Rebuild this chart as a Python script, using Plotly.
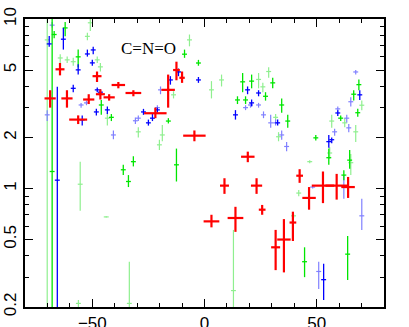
import plotly.graph_objects as go

# red: large crosses
red_x = [-68.8, -64.4, -61.3, -56.3, -51.6, -47.9, -46.4, -42.5, -38.4, -31.7, -21.9, -16.2, -12.5, -10.0,
         -4.5, 3.1, 8.9, 13.8, 19.3, 23.2, 25.7, 31.7, 35.4, 39.4, 42.4, 46.6, 52.8, 58.9, 64.0]
red_y = [3.4, 5.05, 3.4, 2.55, 3.35, 4.6, 3.6, 3.45, 4.08, 3.66, 2.78, 3.82, 5.0, 4.5,
         2.05, 0.64, 1.04, 0.67, 1.54, 1.04, 0.75, 0.45, 0.5, 0.63, 1.19, 0.88, 1.04, 1.04, 1.02]
red_hi = [3.8, 5.5, 3.8, 2.7, 3.6, 4.9, 3.85, 3.6, 4.25, 3.8, 3.0, 4.7, 5.6, 4.9,
          2.2, 0.7, 1.15, 0.78, 1.65, 1.15, 0.8, 0.57, 0.66, 0.73, 1.3, 1.02, 1.26, 1.22, 1.17]
red_lo = [3.0, 4.65, 3.0, 2.4, 3.15, 4.25, 3.35, 3.3, 3.9, 3.5, 2.6, 3.0, 4.35, 4.2,
          1.9, 0.59, 0.93, 0.555, 1.43, 0.93, 0.7, 0.33, 0.32, 0.49, 1.08, 0.75, 0.82, 0.86, 0.88]
red_xerr = [2.5, 2, 2.5, 4, 2.5, 2, 2, 2.5, 3, 3.5, 5, 3, 1.5, 1.2,
            5, 3.5, 2, 3.5, 3, 2.5, 1.5, 2, 3, 1.5, 1.5, 3, 5, 5, 3]

# bright green
grn_x = [-67.9, -62.1, -67.0, -56.3, -46.0, -41.5, -36.2, -33.9, -31.7, -16.1, -12.5, -8.9, -2.7,
         17.0, 21.0, 14.7, 18.3, 27.2, 30.4, 34.4, 37.1, 49.6, 60.7, 66.5, 68.8, 68.3,
         55.4, 64.7, 62.1, 44.6, 63.8]
grn_y = [1.26, 8.86, 8.1, 5.98, 3.11, 2.63, 1.29, 1.1, 1.44, 2.5, 1.38, 6.2, 5.5,
         4.26, 4.3, 3.33, 3.33, 3.5, 4.2, 3.11, 2.5, 1.99, 2.6, 3.6, 4.1, 2.8,
         1.52, 1.47, 1.2, 0.37, 0.41]
grn_hi = [12, 9.6, 8.5, 6.6, 3.33, 2.75, 1.38, 1.2, 1.55, 2.6, 1.72, 6.6, 5.74,
          4.8, 4.7, 3.5, 3.5, 3.7, 4.5, 3.4, 2.72, 2.07, 2.7, 3.8, 4.4, 2.95,
          1.72, 1.69, 1.28, 0.45, 0.525]
grn_lo = [0.15, 7.9, 7.7, 5.2, 2.72, 2.5, 1.2, 1.02, 1.35, 2.42, 1.1, 5.9, 5.3,
          3.7, 3.9, 3.15, 3.15, 3.3, 3.9, 2.8, 2.28, 1.92, 2.5, 3.3, 3.8, 2.65,
          1.38, 1.31, 1.12, 0.30, 0.289]

# light green
lgr_x = [-70.1, -64.3, -61.2, -58.5, -52.2, -47.8, -46.4, -50.9, -55.4, -43.3, -29.5, -18.8, -20.1,
         -6.7, -11.6, -13.8, 3.1, 7.6, 24.1, 28.6, 26.0, 31.7, 33.0, 56.7, 62.5, 67.4, 55.8,
         46.9, 65.2, 42.0, 39.7, 12.9, -33.5, -56.2, -43.8, 70.1]
lgr_y = [7.53, 5.89, 5.74, 5.6, 7.9, 5.74, 5.22, 9.5, 1.06, 2.6, 2.16, 2.07, 1.81,
         7.53, 4.9, 3.57, 3.82, 4.37, 4.4, 4.9, 3.98, 2.63, 2.02, 2.5, 2.44, 2.16, 1.62,
         1.44, 1.42, 0.94, 0.69, 0.25, 0.21, 0.21, 0.68, 3.1]
lgr_hi = [12, 6.2, 6.0, 5.9, 8.3, 6.0, 5.5, 12, 1.44, 2.8, 2.3, 2.37, 1.94,
          8.1, 5.1, 3.75, 4.3, 4.7, 4.8, 5.2, 4.2, 2.75, 2.15, 2.72, 2.6, 2.37, 1.75,
          1.47, 1.6, 0.98, 0.71, 0.57, 0.37, 0.22, 0.685, 3.3]
lgr_lo = [0.15, 5.5, 5.5, 5.3, 7.5, 5.5, 4.9, 8.5, 0.74, 2.35, 2.0, 1.9, 1.69,
          6.9, 4.7, 3.4, 3.4, 4.0, 3.9, 4.5, 3.7, 2.5, 1.9, 2.28, 2.3, 1.88, 1.5,
          1.41, 1.2, 0.9, 0.67, 0.15, 0.15, 0.15, 0.675, 2.9]

# dark blue
blu_x = [-69.2, -62.9, -65.6, -56.3, -58.5, -54.5, -48.2, -43.3, -49.6, -52.2, -50.0, -47.8, -46.4,
         -27.2, -25.0, -23.2, -21.0, -15.2, -11.6, -2.7, 13.8, 19.2, 24.1, 21.0, 32.6,
         59.4, 55.4, 56.7, 69.2, 53.1]
blu_y = [7.13, 7.6, 1.12, 5.01, 3.9, 2.54, 2.83, 2.91, 6.57, 6.22, 5.51, 3.82, 3.7,
         2.83, 2.44, 2.6, 2.91, 4.37, 4.87, 4.37, 2.72, 3.82, 3.66, 3.2, 2.44,
         2.79, 1.89, 1.94, 3.57, 0.29]
blu_hi = [7.95, 8.86, 3.99, 5.4, 4.1, 2.7, 2.95, 3.05, 6.85, 6.6, 5.74, 3.95, 3.85,
          2.95, 2.55, 2.75, 3.0, 4.6, 5.1, 4.55, 2.9, 4.0, 3.8, 3.35, 2.55,
          2.9, 2.07, 2.0, 3.8, 0.36]
blu_lo = [6.85, 6.6, 0.15, 4.7, 3.7, 2.35, 2.7, 2.75, 6.2, 6.0, 5.3, 3.7, 3.55,
          2.72, 2.35, 2.5, 2.8, 4.1, 4.6, 4.2, 2.55, 3.6, 3.5, 3.05, 2.35,
          2.68, 1.74, 1.85, 3.33, 0.22]

# light blue
lbl_x = [-70.1, -67.9, -55.0, -52.6, -40.6, -30.8, -29.5, -19.6, -21.0, 18.3, 20.5, 24.1, 26.3,
         29.5, 31.7, 34.4, 36.6, 58.0, 63.4, 64.3, 65.2, 67.4, 59.4, 48.2, 62.1, 70.1, 50.9]
lbl_y = [2.72, 9.2, 3.11, 3.2, 2.07, 2.51, 2.6, 3.82, 3.0, 3.0, 3.11, 3.11, 2.72,
         2.44, 2.44, 2.07, 1.77, 2.16, 2.6, 2.28, 3.25, 4.87, 2.95, 1.02, 1.02, 0.69, 0.324]
lbl_hi = [2.9, 9.6, 3.2, 3.3, 2.2, 2.62, 2.7, 4.0, 3.1, 3.1, 3.2, 3.2, 2.85,
          2.72, 2.55, 2.2, 1.88, 2.25, 2.72, 2.4, 3.45, 5.0, 3.05, 1.04, 1.2, 0.87, 0.37]
lbl_lo = [2.5, 8.9, 3.0, 3.1, 1.95, 2.4, 2.5, 3.6, 2.9, 2.9, 3.0, 3.0, 2.6,
          2.28, 2.35, 1.94, 1.66, 2.05, 2.45, 2.15, 3.05, 4.7, 2.85, 1.0, 0.87, 0.57, 0.255]

y_ticks = [0.2, 0.5, 1, 2, 5, 10]
y_minor = [0.3, 0.4, 0.6, 0.7, 0.8, 0.9, 3, 4, 6, 7, 8, 9]
x_ticks = [-50, 0, 50]


def cross_trace(xs, ys, hi, lo, xerr, color, width):
    return go.Scatter(
        x=xs, y=ys, mode='markers',
        marker=dict(size=1, color=color, opacity=0),
        error_y=dict(type='data', symmetric=False,
                     array=[h - v for h, v in zip(hi, ys)],
                     arrayminus=[v - l for v, l in zip(ys, lo)],
                     color=color, thickness=width, width=0),
        error_x=dict(type='data', array=xerr, color=color, thickness=width, width=0),
        showlegend=False, hoverinfo='skip')


fig = go.Figure()
fig.add_trace(cross_trace(lgr_x, lgr_y, lgr_hi, lgr_lo, [1.1] * len(lgr_x), '#8fef8f', 1.2))
fig.add_trace(cross_trace(lbl_x, lbl_y, lbl_hi, lbl_lo, [1.1] * len(lbl_x), '#8080ff', 1.2))
fig.add_trace(cross_trace(grn_x, grn_y, grn_hi, grn_lo, [1.1] * len(grn_x), '#00e600', 1.3))
fig.add_trace(cross_trace(blu_x, blu_y, blu_hi, blu_lo, [1.1] * len(blu_x), '#0000ff', 1.3))
fig.add_trace(cross_trace(red_x, red_y, red_hi, red_lo, red_xerr, '#ff0000', 2.2))

fig.add_annotation(x=-25, y=0.9375, xref='x', yref='paper', text='C=N=O', showarrow=False,
                   font=dict(family='Liberation Serif', size=17, color='black'))

axis_common = dict(showline=True, linecolor='black', linewidth=2, mirror='ticks',
                   ticks='inside', ticklen=8, tickwidth=1.3, tickcolor='black',
                   showgrid=False, zeroline=False, automargin=False,
                   tickfont=dict(family='Liberation Sans', size=17, color='black'))

fig.update_xaxes(range=[-80, 80], tickvals=x_ticks,
                 minor=dict(dtick=10, tick0=0, ticks='inside', ticklen=4, tickwidth=1.3,
                            tickcolor='black', showgrid=False),
                 **axis_common)
fig.update_yaxes(type='log', range=[-0.69897, 1], tickvals=y_ticks,
                 ticktext=[str(t) for t in y_ticks], tickangle=-90,
                 minor=dict(tickvals=y_minor, ticks='inside', ticklen=4, tickwidth=1.3,
                            tickcolor='black', showgrid=False),
                 **axis_common)

fig.update_layout(width=409, height=327, margin=dict(l=25, r=25, t=19, b=20),
                  plot_bgcolor='white', paper_bgcolor='white')

# drop the page's default body margin so the figure fills the window
fig.write_html("out.html", config={'displayModeBar': False},
               post_script="document.body.style.margin='0';")
